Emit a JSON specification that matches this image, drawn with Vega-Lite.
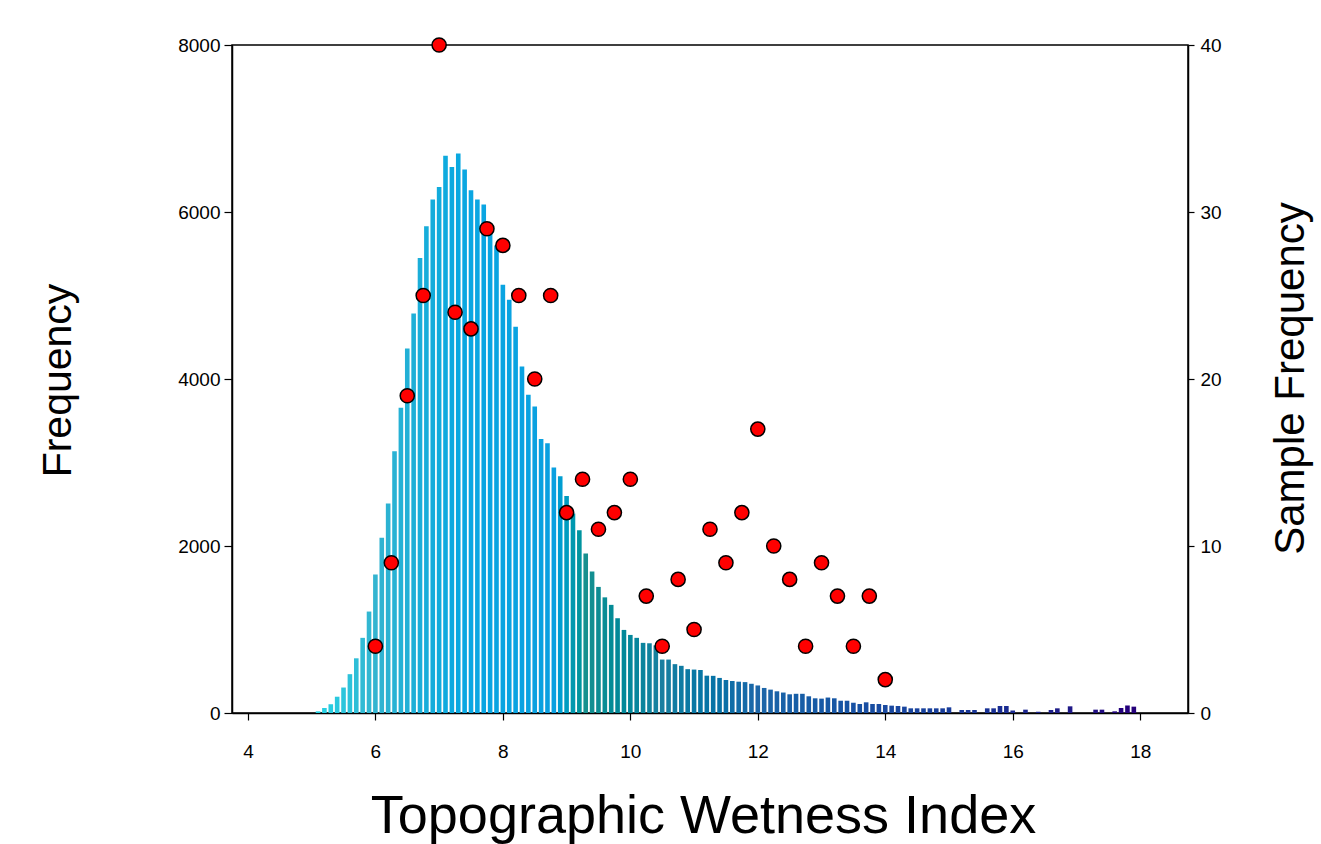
{
  "$schema": "https://vega.github.io/schema/vega-lite/v6.json",
  "width": 956,
  "height": 668,
  "autosize": {"type": "none"},
  "padding": {"left": 232, "top": 45, "right": 133, "bottom": 131},
  "background": "white",
  "config": {
    "font": "Liberation Sans",
    "view": {"stroke": "black", "strokeWidth": 1.5},
    "axis": {
      "grid": false,
      "domainColor": "black",
      "domainWidth": 1.5,
      "tickColor": "black",
      "tickWidth": 1.2,
      "labelFont": "Liberation Sans",
      "labelFontSize": 19,
      "labelColor": "black",
      "titleFont": "Liberation Sans",
      "titleFontWeight": "normal",
      "titleColor": "black"
    }
  },
  "datasets": {
    "hist": [
      {"TWI": 5.1, "Frequency": 20}, {"TWI": 5.2, "Frequency": 60}, {"TWI": 5.3, "Frequency": 105}, {"TWI": 5.4, "Frequency": 195},
      {"TWI": 5.5, "Frequency": 305}, {"TWI": 5.6, "Frequency": 465}, {"TWI": 5.7, "Frequency": 655}, {"TWI": 5.8, "Frequency": 900},
      {"TWI": 5.9, "Frequency": 1215}, {"TWI": 6.0, "Frequency": 1660}, {"TWI": 6.1, "Frequency": 2100}, {"TWI": 6.2, "Frequency": 2510},
      {"TWI": 6.3, "Frequency": 3135}, {"TWI": 6.4, "Frequency": 3655}, {"TWI": 6.5, "Frequency": 4365}, {"TWI": 6.6, "Frequency": 4785},
      {"TWI": 6.7, "Frequency": 5450}, {"TWI": 6.8, "Frequency": 5830}, {"TWI": 6.9, "Frequency": 6150}, {"TWI": 7.0, "Frequency": 6300},
      {"TWI": 7.1, "Frequency": 6675}, {"TWI": 7.2, "Frequency": 6540}, {"TWI": 7.3, "Frequency": 6700}, {"TWI": 7.4, "Frequency": 6510},
      {"TWI": 7.5, "Frequency": 6260}, {"TWI": 7.6, "Frequency": 6150}, {"TWI": 7.7, "Frequency": 6090}, {"TWI": 7.8, "Frequency": 5850},
      {"TWI": 7.9, "Frequency": 5600}, {"TWI": 8.0, "Frequency": 5130}, {"TWI": 8.1, "Frequency": 4950}, {"TWI": 8.2, "Frequency": 4625},
      {"TWI": 8.3, "Frequency": 4150}, {"TWI": 8.4, "Frequency": 3810}, {"TWI": 8.5, "Frequency": 3670}, {"TWI": 8.6, "Frequency": 3280},
      {"TWI": 8.7, "Frequency": 3230}, {"TWI": 8.8, "Frequency": 2940}, {"TWI": 8.9, "Frequency": 2835}, {"TWI": 9.0, "Frequency": 2600},
      {"TWI": 9.1, "Frequency": 2390}, {"TWI": 9.2, "Frequency": 2190}, {"TWI": 9.3, "Frequency": 1910}, {"TWI": 9.4, "Frequency": 1695},
      {"TWI": 9.5, "Frequency": 1510}, {"TWI": 9.6, "Frequency": 1385}, {"TWI": 9.7, "Frequency": 1295}, {"TWI": 9.8, "Frequency": 1135},
      {"TWI": 9.9, "Frequency": 995}, {"TWI": 10.0, "Frequency": 935}, {"TWI": 10.1, "Frequency": 900}, {"TWI": 10.2, "Frequency": 840},
      {"TWI": 10.3, "Frequency": 835}, {"TWI": 10.4, "Frequency": 810}, {"TWI": 10.5, "Frequency": 640}, {"TWI": 10.6, "Frequency": 640},
      {"TWI": 10.7, "Frequency": 585}, {"TWI": 10.8, "Frequency": 565}, {"TWI": 10.9, "Frequency": 525}, {"TWI": 11.0, "Frequency": 520},
      {"TWI": 11.1, "Frequency": 515}, {"TWI": 11.2, "Frequency": 447}, {"TWI": 11.3, "Frequency": 445}, {"TWI": 11.4, "Frequency": 420},
      {"TWI": 11.5, "Frequency": 395}, {"TWI": 11.6, "Frequency": 383}, {"TWI": 11.7, "Frequency": 375}, {"TWI": 11.8, "Frequency": 370},
      {"TWI": 11.9, "Frequency": 350}, {"TWI": 12.0, "Frequency": 330}, {"TWI": 12.1, "Frequency": 300}, {"TWI": 12.2, "Frequency": 280},
      {"TWI": 12.3, "Frequency": 260}, {"TWI": 12.4, "Frequency": 245}, {"TWI": 12.5, "Frequency": 224}, {"TWI": 12.6, "Frequency": 230},
      {"TWI": 12.7, "Frequency": 230}, {"TWI": 12.8, "Frequency": 200}, {"TWI": 12.9, "Frequency": 176}, {"TWI": 13.0, "Frequency": 172},
      {"TWI": 13.1, "Frequency": 185}, {"TWI": 13.2, "Frequency": 176}, {"TWI": 13.3, "Frequency": 147}, {"TWI": 13.4, "Frequency": 147},
      {"TWI": 13.5, "Frequency": 123}, {"TWI": 13.6, "Frequency": 108}, {"TWI": 13.7, "Frequency": 128}, {"TWI": 13.8, "Frequency": 108},
      {"TWI": 13.9, "Frequency": 108}, {"TWI": 14.0, "Frequency": 96}, {"TWI": 14.1, "Frequency": 88}, {"TWI": 14.2, "Frequency": 84},
      {"TWI": 14.3, "Frequency": 76}, {"TWI": 14.4, "Frequency": 56}, {"TWI": 14.5, "Frequency": 56}, {"TWI": 14.6, "Frequency": 56},
      {"TWI": 14.7, "Frequency": 56}, {"TWI": 14.8, "Frequency": 56}, {"TWI": 14.9, "Frequency": 56}, {"TWI": 15.0, "Frequency": 68},
      {"TWI": 15.2, "Frequency": 36}, {"TWI": 15.3, "Frequency": 36}, {"TWI": 15.4, "Frequency": 36},
      {"TWI": 15.6, "Frequency": 56}, {"TWI": 15.7, "Frequency": 56}, {"TWI": 15.8, "Frequency": 84}, {"TWI": 15.9, "Frequency": 84},
      {"TWI": 16.0, "Frequency": 30}, {"TWI": 16.2, "Frequency": 40}, {"TWI": 16.4, "Frequency": 15},
      {"TWI": 16.6, "Frequency": 36}, {"TWI": 16.7, "Frequency": 56}, {"TWI": 16.9, "Frequency": 80},
      {"TWI": 17.3, "Frequency": 40}, {"TWI": 17.4, "Frequency": 40}, {"TWI": 17.6, "Frequency": 20},
      {"TWI": 17.7, "Frequency": 60}, {"TWI": 17.8, "Frequency": 90}, {"TWI": 17.9, "Frequency": 76}
    ],
    "samples": [
      {"TWI": 6.0, "Samples": 4}, {"TWI": 6.25, "Samples": 9}, {"TWI": 6.5, "Samples": 19}, {"TWI": 6.75, "Samples": 25},
      {"TWI": 7.0, "Samples": 40}, {"TWI": 7.25, "Samples": 24}, {"TWI": 7.5, "Samples": 23}, {"TWI": 7.75, "Samples": 29},
      {"TWI": 8.0, "Samples": 28}, {"TWI": 8.25, "Samples": 25}, {"TWI": 8.5, "Samples": 20}, {"TWI": 8.75, "Samples": 25},
      {"TWI": 9.0, "Samples": 12}, {"TWI": 9.25, "Samples": 14}, {"TWI": 9.5, "Samples": 11}, {"TWI": 9.75, "Samples": 12},
      {"TWI": 10.0, "Samples": 14}, {"TWI": 10.25, "Samples": 7}, {"TWI": 10.5, "Samples": 4}, {"TWI": 10.75, "Samples": 8},
      {"TWI": 11.0, "Samples": 5}, {"TWI": 11.25, "Samples": 11}, {"TWI": 11.5, "Samples": 9}, {"TWI": 11.75, "Samples": 12},
      {"TWI": 12.0, "Samples": 17}, {"TWI": 12.25, "Samples": 10}, {"TWI": 12.5, "Samples": 8}, {"TWI": 12.75, "Samples": 4},
      {"TWI": 13.0, "Samples": 9}, {"TWI": 13.25, "Samples": 7}, {"TWI": 13.5, "Samples": 4}, {"TWI": 13.75, "Samples": 7},
      {"TWI": 14.0, "Samples": 2}
    ]
  },
  "layer": [
    {
      "data": {"name": "hist"},
      "mark": {"type": "bar", "size": 4.6},
      "encoding": {
        "x": {
          "field": "TWI",
          "type": "quantitative",
          "scale": {"domain": [3.75, 18.75], "nice": false, "zero": false, "padding": 0},
          "axis": {
            "values": [4, 6, 8, 10, 12, 14, 16, 18],
            "format": "d",
            "title": "Topographic Wetness Index",
            "titleFontSize": 54,
            "titleX": 471,
            "titleY": 103,
            "titleBaseline": "middle",
            "tickSize": 7,
            "labelPadding": 22
          }
        },
        "y": {
          "field": "Frequency",
          "type": "quantitative",
          "scale": {"domain": [0, 8000], "nice": false},
          "axis": {
            "orient": "left",
            "values": [0, 2000, 4000, 6000, 8000],
            "format": "d",
            "title": "Frequency",
            "titleFontSize": 41,
            "titleX": -174,
            "titleY": 335,
            "titleBaseline": "middle",
            "titleAngle": -90,
            "tickSize": 8,
            "labelPadding": 4
          }
        },
        "color": {
          "field": "TWI",
          "type": "quantitative",
          "legend": null,
          "scale": {
            "domain": [5, 6, 7.5, 8.8, 9.3, 10.5, 12, 14, 16],
            "range": ["#25d6e6", "#33b4d0", "#0aa6e2", "#0aa0e0", "#17908f", "#1a7fa0", "#1d66a8", "#1a4aa0", "#1a2a90"]
          }
        }
      }
    },
    {
      "data": {"name": "samples"},
      "mark": {"type": "circle", "fill": "#ff0000", "stroke": "black", "strokeWidth": 1.5, "size": 200, "opacity": 1},
      "encoding": {
        "x": {"field": "TWI", "type": "quantitative"},
        "y": {
          "field": "Samples",
          "type": "quantitative",
          "scale": {"domain": [0, 40], "nice": false},
          "axis": {
            "orient": "right",
            "values": [0, 10, 20, 30, 40],
            "format": "d",
            "title": "Sample Frequency",
            "titleFontSize": 42,
            "titleX": 102,
            "titleY": 333,
            "titleBaseline": "middle",
            "titleAngle": -90,
            "tickSize": 6,
            "labelPadding": 6
          }
        }
      }
    }
  ],
  "resolve": {"scale": {"y": "independent"}, "axis": {"y": "independent"}}
}
